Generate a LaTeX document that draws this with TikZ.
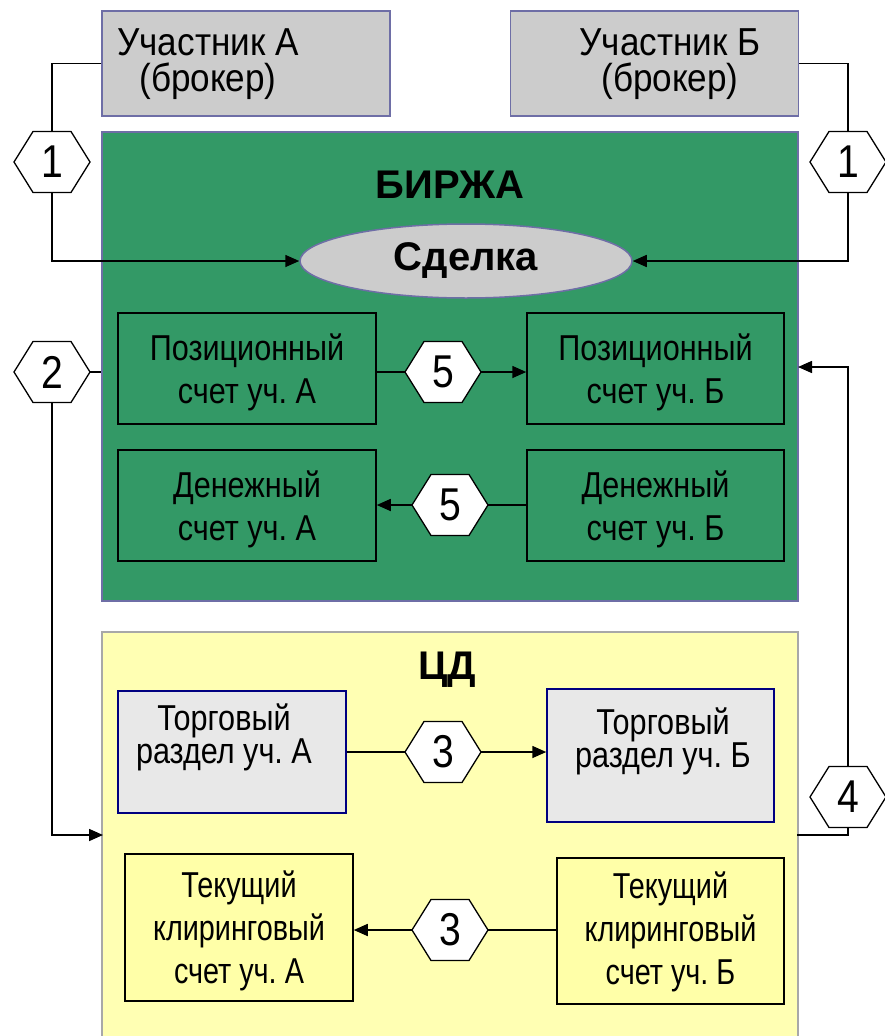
\documentclass[tikz,border=0pt]{standalone}
\usepackage{fontspec}
\setmainfont{Liberation Sans}
\newfontfamily\narrowfont{Liberation Sans}[FakeStretch=0.85]
\newfontfamily\tightfont{Liberation Sans}[FakeStretch=0.8]
\newfontfamily\partfont{Liberation Sans}[FakeStretch=0.9]
\usetikzlibrary{arrows.meta,shapes.geometric}

\definecolor{exgreen}{HTML}{339966}
\definecolor{greyfill}{HTML}{CCCCCC}
\definecolor{lilacline}{HTML}{6E6EA6}
\definecolor{cdfill}{HTML}{FFFFB3}
\definecolor{cdline}{HTML}{A8A8A8}
\definecolor{tekfill}{HTML}{FFFFA8}
\definecolor{trfill}{HTML}{E8E8E8}
\definecolor{trline}{HTML}{000080}

% hexagonal step marker: outline first, then the named node carrying the number
\newcommand\stepmarker[3]{%
  \filldraw[hexline] (#2) ++(-38,0) -- ++(19,-30.5) -- ++(38,0) -- ++(19,30.5)
    -- ++(-19,30.5) -- ++(-38,0) -- cycle;
  \node[hexnode] (#1) at (#2) {#3};}

\frenchspacing
\begin{document}
\begin{tikzpicture}[x=1pt,y=-1pt,
  conn/.style={draw=black, line width=1.6pt},
  arr/.style={conn, -{Triangle[length=14pt,width=12pt]}},
  hexnode/.style={shape=rectangle, minimum width=76pt, minimum height=61pt,
    inner sep=0pt, font=\narrowfont\fontsize{46}{46}\selectfont},
  hexline/.style={draw=black, fill=white, line width=1.3pt, line join=miter},
  partbox/.style={draw=lilacline, fill=greyfill, line width=1.5pt, inner sep=0pt,
    minimum width=288pt, minimum height=105pt},
  parttext/.style={align=center, inner sep=0pt,
    font=\partfont\fontsize{39}{36}\selectfont},
  acct/.style={draw=black, line width=1.5pt, inner sep=0pt},
  accttext/.style={align=center, inner sep=0pt,
    font=\narrowfont\fontsize{36}{43}\selectfont},
  tektext/.style={align=center, inner sep=0pt,
    font=\tightfont\fontsize{36}{43}\selectfont},
  trbox/.style={draw=trline, fill=trfill, line width=1.5pt, inner sep=0pt},
  trtext/.style={align=center, inner sep=0pt,
    font=\narrowfont\fontsize{36}{33}\selectfont},
  title/.style={inner sep=0pt, font=\bfseries\fontsize{40}{40}\selectfont}]

\useasboundingbox (0,0) rectangle (885,1036);
\clip (0,0) rectangle (885,1036);

% participants
\node[partbox] (pa) at (246,63.5) {};
\node[parttext] (paT) at (208,64) {Участник А\\(брокер)};
\node[partbox] (pb) at (654.5,63.5) {};
\node[parttext] (pbT) at (670,64) {Участник Б\\(брокер)};

% exchange
\node[draw=lilacline, fill=exgreen, line width=1.5pt, inner sep=0pt,
  minimum width=696pt, minimum height=469pt] (ex) at (450,366.5) {};
\node[title] (exT) at (450,185) {БИРЖА};
\node[ellipse, draw=lilacline, fill=greyfill, line width=1.5pt, inner sep=0pt,
  minimum width=332pt, minimum height=74pt,
  font=\bfseries\fontsize{40}{40}\selectfont] (deal) at (466,261) {Сделка};

\node[acct, minimum width=258pt, minimum height=111pt] (posA) at (247,368.5) {};
\node[accttext] (posAT) at ([yshift=-4pt]posA.center) {Позиционный\\счет уч. А};
\node[acct, minimum width=257pt, minimum height=111pt] (posB) at (655.5,368.5) {};
\node[accttext] (posBT) at ([yshift=-4pt]posB.center) {Позиционный\\счет уч. Б};
\node[acct, minimum width=258pt, minimum height=111pt] (monA) at (247,505.5) {};
\node[accttext] (monAT) at ([yshift=-4pt]monA.center) {Денежный\\счет уч. А};
\node[acct, minimum width=257pt, minimum height=111pt] (monB) at (655.5,505.5) {};
\node[accttext] (monBT) at ([yshift=-4pt]monB.center) {Денежный\\счет уч. Б};

% depository
\node[draw=cdline, fill=cdfill, line width=1.5pt, inner sep=0pt,
  minimum width=696pt, minimum height=420pt] (cd) at (450,842) {};
\node[title] (cdT) at (447,670) {ЦД};

\node[trbox, minimum width=228pt, minimum height=122pt] (trA) at (232,752) {};
\node[trtext] (trAT) at (224,737) {Торговый\\раздел уч. А};
\node[trbox, minimum width=227pt, minimum height=133pt] (trB) at (660.5,755.5) {};
\node[trtext] (trBT) at (663,741) {Торговый\\раздел уч. Б};

\node[acct, fill=tekfill, minimum width=228pt, minimum height=147pt] (tkA) at (239,927.5) {};
\node[tektext] (tkAT) at ([yshift=-3pt]tkA.center) {Текущий\\клиринговый\\счет уч. А};
\node[acct, fill=tekfill, minimum width=227pt, minimum height=146pt] (tkB) at (670.5,931) {};
\node[tektext] (tkBT) at ([yshift=-1pt]tkB.center) {Текущий\\клиринговый\\счет уч. Б};

% step markers
\stepmarker{h1a}{52,162}{1}
\stepmarker{h1b}{848,162}{1}
\stepmarker{h2}{52,372}{2}
\stepmarker{h5a}{443,372}{5}
\stepmarker{h5b}{450,505}{5}
\stepmarker{h3a}{443,752}{3}
\stepmarker{h3b}{450,930}{3}
\stepmarker{h4}{848,797}{4}

\coordinate (cdIn) at (103,835);
\coordinate (cdOut) at (797,835);
\coordinate (exIn) at (798,367);

% step 1: orders into the deal
\draw[conn] (pa.west) -| (h1a.north);
\draw[arr] (h1a.south) |- (deal.west);
\draw[conn] (pb.east) -| (h1b.north);
\draw[arr] (h1b.south) |- (deal.east);

% step 2: exchange to depository
\draw[conn] (h2.east) -- (h2.east -| ex.west);
\draw[arr] (h2.south) |- (cdIn);

% step 3: transfers inside the depository
\draw[conn] (h3a.west -| trA.east) -- (h3a.west);
\draw[arr] (h3a.east) -- (h3a.east -| trB.west);
\draw[conn] (h3b.east -| tkB.west) -- (h3b.east);
\draw[arr] (h3b.west) -- (h3b.west -| tkA.east);

% step 4: depository back to exchange
\draw[conn] (cdOut) -| (h4.south);
\draw[arr] (h4.north) |- (exIn);

% step 5: transfers inside the exchange
\draw[conn] (h5a.west -| posA.east) -- (h5a.west);
\draw[arr] (h5a.east) -- (h5a.east -| posB.west);
\draw[conn] (h5b.east -| monB.west) -- (h5b.east);
\draw[arr] (h5b.west) -- (h5b.west -| monA.east);
\end{tikzpicture}
\end{document}
